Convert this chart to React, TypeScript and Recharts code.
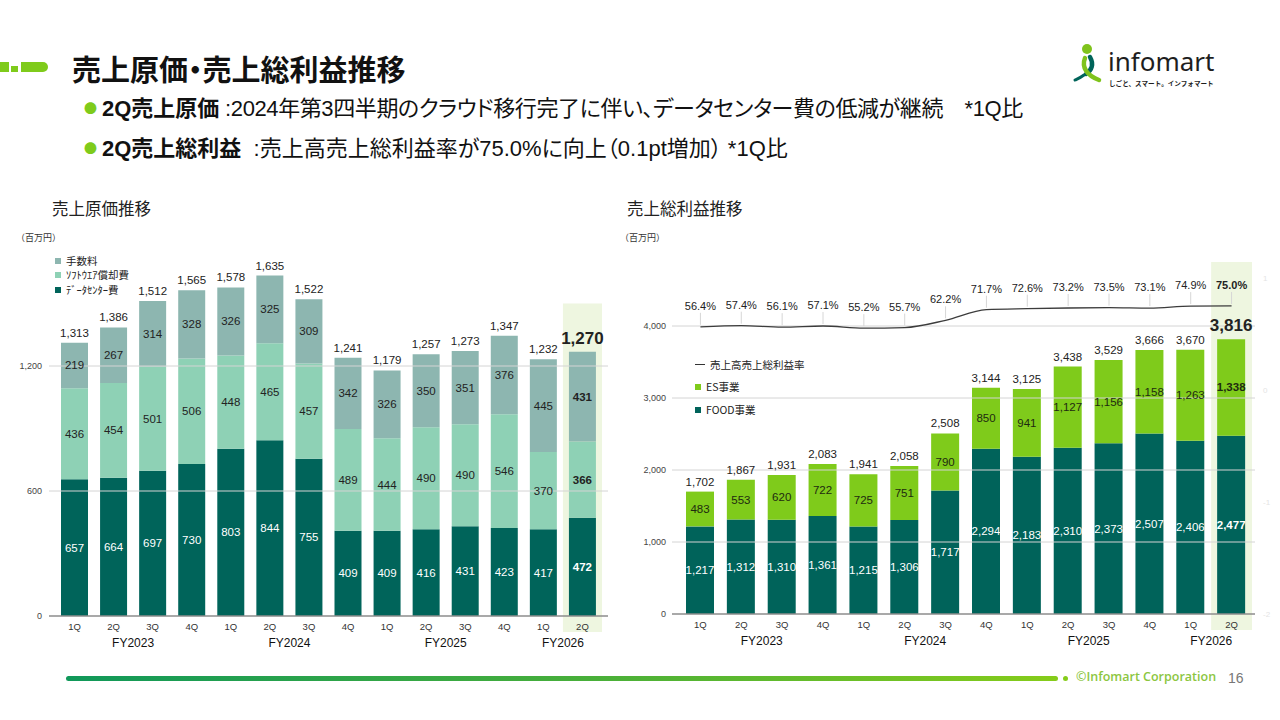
import React from "react";
import { ComposedChart, Bar, Line, XAxis, YAxis, LabelList, ReferenceArea, ReferenceLine } from "recharts";

const quarters = ["1Q", "2Q", "3Q", "4Q", "1Q", "2Q", "3Q", "4Q", "1Q", "2Q", "3Q", "4Q", "1Q", "2Q"];
const quarterYears = ["FY2023", "FY2023", "FY2023", "FY2023", "FY2024", "FY2024", "FY2024", "FY2024", "FY2025", "FY2025", "FY2025", "FY2025", "FY2026", "FY2026"];
const fyLabels = ["FY2023", "FY2024", "FY2025", "FY2026"];
const fyLabelAt = [1, 5, 9, 12];

// 売上原価 (百万円)
const dataCenter = [657, 664, 697, 730, 803, 844, 755, 409, 409, 416, 431, 423, 417, 472];
const software = [436, 454, 501, 506, 448, 465, 457, 489, 444, 490, 490, 546, 370, 366];
const fees = [219, 267, 314, 328, 326, 325, 309, 342, 326, 350, 351, 376, 445, 431];
const costTotals = [1313, 1386, 1512, 1565, 1578, 1635, 1522, 1241, 1179, 1257, 1273, 1347, 1232, 1270];
const costTicks = [0, 600, 1200];

// 売上総利益 (百万円)
const food = [1217, 1312, 1310, 1361, 1215, 1306, 1717, 2294, 2183, 2310, 2373, 2507, 2406, 2477];
const es = [483, 553, 620, 722, 725, 751, 790, 850, 941, 1127, 1156, 1158, 1263, 1338];
const profitTotals = [1702, 1867, 1931, 2083, 1941, 2058, 2508, 3144, 3125, 3438, 3529, 3666, 3670, 3816];
const grossMargin = [56.4, 57.4, 56.1, 57.1, 55.2, 55.7, 62.2, 71.7, 72.6, 73.2, 73.5, 73.1, 74.9, 75.0];
const profitTicks = [0, 1000, 2000, 3000, 4000];

const periods = quarters.map((q, i) => `${quarterYears[i]}-${q}`);
const lastIdx = periods.length - 1;
const lastPeriod = periods[lastIdx];

const costData = periods.map((p, i) => ({ period: p, dc: dataCenter[i], sw: software[i], fee: fees[i], total: costTotals[i] }));
const profitData = periods.map((p, i) => ({ period: p, food: food[i], es: es[i], total: profitTotals[i], rate: grossMargin[i] }));

const FONT = "'Liberation Sans', Arial, 'Noto Sans CJK JP', sans-serif";
const JP = "'Noto Sans CJK JP', 'Liberation Sans', sans-serif";
const MIX = "'Liberation Sans', 'Noto Sans CJK JP', sans-serif";

const C_FEE = "#8db6b0";
const C_SW = "#8ed1b5";
const C_DC = "#00645a";
const C_ES = "#7fcb1b";
const C_FOOD = "#00635a";
const C_HL = "#eef6e0";
const C_GRID = "#d4d4d4";

const fmt = (v: number) => v.toLocaleString("en-US");

function segLabel(color: string) {
  return (props: any) => {
    const { x, y, width, height, value, index } = props;
    const last = index === lastIdx;
    return (
      <text x={Number(x) + Number(width) / 2} y={Number(y) + Number(height) / 2} fill={color} fontSize={11.5}
        fontWeight={last ? 700 : 400} textAnchor="middle" dominantBaseline="central" fontFamily={FONT}>
        {fmt(value)}
      </text>
    );
  };
}

function totalLabel(props: any) {
  const { x, y, width, value, index } = props;
  const last = index === lastIdx;
  return (
    <text x={Number(x) + Number(width) / 2} y={Number(y) - (last ? 8 : 6)} fill="#222" fontSize={last ? 17 : 11.5}
      fontWeight={last ? 700 : 400} textAnchor="middle" fontFamily={FONT}>
      {fmt(value)}
    </text>
  );
}

function rateLabel(props: any) {
  const { x, y, value, index } = props;
  const last = index === lastIdx;
  return (
    <g>
      <line x1={x} x2={x} y1={Number(y) - 2} y2={Number(y) - 14} stroke="#d6d6d6" strokeWidth={1} />
      <text x={x} y={Number(y) - 17} fill="#222" fontSize={11} fontWeight={last ? 700 : 400} textAnchor="middle" fontFamily={FONT}>
        {value.toFixed(1)}%
      </text>
    </g>
  );
}

function quarterTick(half: number) {
  return (props: any) => {
    const { x, y, payload } = props;
    const i = periods.indexOf(payload.value);
    const fy = fyLabelAt.indexOf(i);
    return (
      <g>
        <text x={x} y={y + 10} textAnchor="middle" dominantBaseline="central" fontSize={9.5} fill="#333" fontFamily={FONT}>
          {quarters[i]}
        </text>
        {fy >= 0 && (
          <text x={x + half} y={y + 27} textAnchor="middle" dominantBaseline="central" fontSize={12} fill="#111" fontFamily={FONT}>
            {fyLabels[fy]}
          </text>
        )}
      </g>
    );
  };
}

function Swatch({ color, top, left, label, line }: { color: string; top: number; left: number; label: string; line?: boolean }) {
  return (
    <div style={{ position: "absolute", top, left, display: "flex", alignItems: "center", fontFamily: JP, fontSize: 10.5, color: "#222", whiteSpace: "nowrap" }}>
      {line ? (
        <span style={{ display: "inline-block", width: 10, height: 1.5, background: color, marginRight: 5 }} />
      ) : (
        <span style={{ display: "inline-block", width: 6, height: 6, background: color, marginRight: 5 }} />
      )}
      {label}
    </div>
  );
}

function CostChart() {
  return (
    <div style={{ position: "absolute", left: 0, top: 230 }}>
      <ComposedChart width={620} height={430} data={costData} margin={{ top: 11, right: 12, bottom: 14, left: 0 }} barSize={27}>
        <ReferenceArea x1={lastPeriod} x2={lastPeriod} y1={-77} y2={1500} fill={C_HL} fillOpacity={1} stroke="none" ifOverflow="visible" />
        {costTicks.slice(1).map((t) => (
          <ReferenceLine key={t} y={t} stroke={C_GRID} strokeWidth={1} />
        ))}
        <XAxis dataKey="period" interval={0} padding={{ left: 6, right: 6 }} tickLine={false} tickSize={0} tickMargin={0}
          axisLine={{ stroke: "#8c8c8c", strokeWidth: 1.5 }} height={30} tick={quarterTick(19.5)} />
        <YAxis domain={[0, 1800]} ticks={costTicks} width={49} axisLine={false} tickLine={false} tickSize={0} tickMargin={7}
          tickFormatter={fmt} tick={{ fontSize: 9, fill: "#444", fontFamily: FONT }} />
        <Bar dataKey="dc" stackId="a" fill={C_DC} isAnimationActive={false}>
          <LabelList dataKey="dc" content={segLabel("#ffffff")} />
        </Bar>
        <Bar dataKey="sw" stackId="a" fill={C_SW} isAnimationActive={false}>
          <LabelList dataKey="sw" content={segLabel("#222222")} />
        </Bar>
        <Bar dataKey="fee" stackId="a" fill={C_FEE} isAnimationActive={false}>
          <LabelList dataKey="fee" content={segLabel("#222222")} />
          <LabelList dataKey="total" content={totalLabel} />
        </Bar>
      </ComposedChart>
      <Swatch color={C_FEE} top={23} left={55} label="手数料" />
      <Swatch color={C_SW} top={37} left={55} label="ｿﾌﾄｳｴｱ償却費" />
      <Swatch color={C_DC} top={52} left={55} label="ﾃﾞｰﾀｾﾝﾀｰ費" />
    </div>
  );
}

function ProfitChart() {
  return (
    <div style={{ position: "absolute", left: 628, top: 230 }}>
      <ComposedChart width={652} height={430} data={profitData} margin={{ top: 24, right: 0, bottom: 16, left: 0 }} barSize={28}>
        <ReferenceArea yAxisId="l" x1={lastPeriod} x2={lastPeriod} y1={-222} y2={4890} fill={C_HL} fillOpacity={1} stroke="none" ifOverflow="visible" />
        {profitTicks.slice(1).map((t) => (
          <ReferenceLine key={t} yAxisId="l" y={t} stroke={C_GRID} strokeWidth={1} />
        ))}
        <XAxis dataKey="period" interval={0} padding={{ left: 8, right: 3 }} tickLine={false} tickSize={0} tickMargin={0}
          axisLine={{ stroke: "#8c8c8c", strokeWidth: 1.5 }} height={30} tick={quarterTick(20.5)} />
        <YAxis yAxisId="l" domain={[0, 5000]} ticks={profitTicks} width={44} axisLine={false} tickLine={false}
          tickSize={0} tickMargin={6} tickFormatter={fmt} tick={{ fontSize: 9, fill: "#444", fontFamily: FONT }} />
        <YAxis yAxisId="r" orientation="right" domain={[-200, 121.4]} ticks={[-200, -100, 0, 100]} width={25} axisLine={false}
          tickLine={false} tickSize={0} tickMargin={8} tickFormatter={(v: number) => String(v / 100)}
          tick={{ fontSize: 8, fill: "#e4e4e4", fontFamily: FONT }} />
        <Bar yAxisId="l" dataKey="food" stackId="a" fill={C_FOOD} isAnimationActive={false}>
          <LabelList dataKey="food" content={segLabel("#ffffff")} />
        </Bar>
        <Bar yAxisId="l" dataKey="es" stackId="a" fill={C_ES} isAnimationActive={false}>
          <LabelList dataKey="es" content={segLabel("#1e2a10")} />
          <LabelList dataKey="total" content={totalLabel} />
        </Bar>
        <Line yAxisId="r" dataKey="rate" type="monotone" stroke="#3c3c3c" strokeWidth={1.3} dot={false} isAnimationActive={false}>
          <LabelList dataKey="rate" content={rateLabel} />
        </Line>
      </ComposedChart>
      <Swatch color="#333" top={127} left={67} label="売上高売上総利益率" line />
      <Swatch color={C_ES} top={149} left={67} label="ES事業" />
      <Swatch color={C_FOOD} top={172} left={67} label="FOOD事業" />
    </div>
  );
}

function Logo() {
  return (
    <div style={{ position: "absolute", left: 1072, top: 42, width: 150, height: 46 }}>
      <svg width={32} height={42} style={{ position: "absolute", left: 0, top: 0 }}>
        <circle cx={15} cy={7} r={5} fill="#7fc31c" />
        <path d="M18 15 C22 22 20 28 14 32" stroke="#00645a" strokeWidth={4.5} fill="none" strokeLinecap="round" />
        <path d="M13 16 C9 26 16 34 27 38" stroke="#7fc31c" strokeWidth={4.5} fill="none" strokeLinecap="round" />
        <path d="M12 33 C8 36 5 37 3 38" stroke="#00645a" strokeWidth={3} fill="none" strokeLinecap="round" />
      </svg>
      <div style={{ position: "absolute", left: 36, top: 8, fontFamily: "'Noto Sans', sans-serif", fontSize: 26, lineHeight: "22px", color: "#1e1e1e" }}>
        infomart
      </div>
      <div style={{ position: "absolute", left: 37, top: 37, fontFamily: JP, fontSize: 6.6, lineHeight: "8px", fontWeight: 700, color: "#1e1e1e", whiteSpace: "nowrap" }}>
        しごと、スマート。インフォマート
      </div>
    </div>
  );
}

const bulletLine: React.CSSProperties = {
  position: "absolute", left: 84, fontFamily: MIX, fontSize: 22, lineHeight: "26px", color: "#111",
  whiteSpace: "nowrap", fontFeatureSettings: '"palt"',
};
const dot: React.CSSProperties = { fontFamily: JP, color: "#7fcb1b", fontSize: 13, marginRight: 5, verticalAlign: 3, letterSpacing: 0 };

export default function App() {
  return (
    <div style={{ position: "relative", width: 1280, height: 720, background: "#fff", overflow: "hidden", fontFamily: JP }}>
      <style>{"body{margin:0}"}</style>
      {/* header decoration */}
      <div style={{ position: "absolute", left: 0, top: 62, width: 9, height: 10, background: "#7fcb1b" }} />
      <div style={{ position: "absolute", left: 11, top: 66, width: 7, height: 6, background: "#7fcb1b" }} />
      <div style={{ position: "absolute", left: 21, top: 62, width: 27, height: 10, background: "#7fcb1b", borderRadius: "0 5px 5px 0" }} />
      <div style={{ position: "absolute", left: 72, top: 52, fontSize: 29, lineHeight: "32px", fontWeight: 700, color: "#111", whiteSpace: "nowrap", fontFeatureSettings: '"palt"' }}>
        売上原価・売上総利益推移
      </div>
      <div style={{ ...bulletLine, top: 95 }}>
        <span style={dot}>●</span>
        <b>2Q売上原価</b>
        <span style={{ letterSpacing: -0.4 }}> :2024年第3四半期のクラウド移行完了に伴い、データセンター費の低減が継続　*1Q比</span>
      </div>
      <div style={{ ...bulletLine, top: 135 }}>
        <span style={dot}>●</span>
        <b>2Q売上総利益</b>&nbsp; :売上高売上総利益率が75.0%に向上（0.1pt増加） *1Q比
      </div>
      <Logo />
      <div style={{ position: "absolute", left: 52, top: 198, fontSize: 16.5, lineHeight: "20px", color: "#222" }}>売上原価推移</div>
      <div style={{ position: "absolute", left: 627, top: 198, fontSize: 16.5, lineHeight: "20px", color: "#222" }}>売上総利益推移</div>
      <div style={{ position: "absolute", left: 16, top: 232, fontSize: 9, lineHeight: "12px", color: "#333" }}>（百万円）</div>
      <div style={{ position: "absolute", left: 620, top: 232, fontSize: 9, lineHeight: "12px", color: "#333" }}>（百万円）</div>
      <CostChart />
      <ProfitChart />
      {/* footer */}
      <div style={{ position: "absolute", left: 66, top: 676, width: 992, height: 5, borderRadius: 3, background: "linear-gradient(90deg, #10985a 0%, #4bb038 55%, #86cc1a 100%)" }} />
      <div style={{ position: "absolute", left: 1063, top: 676, width: 5, height: 5, borderRadius: 3, background: "#86cc1a" }} />
      <div style={{ position: "absolute", left: 1076, top: 668, fontFamily: "'Open Sans', sans-serif", fontSize: 12.5, lineHeight: "18px", fontWeight: 600, color: "#8cc63f", whiteSpace: "nowrap" }}>
        ©Infomart Corporation
      </div>
      <div style={{ position: "absolute", left: 1228, top: 669, fontFamily: FONT, fontSize: 14, lineHeight: "18px", color: "#777" }}>16</div>
    </div>
  );
}
